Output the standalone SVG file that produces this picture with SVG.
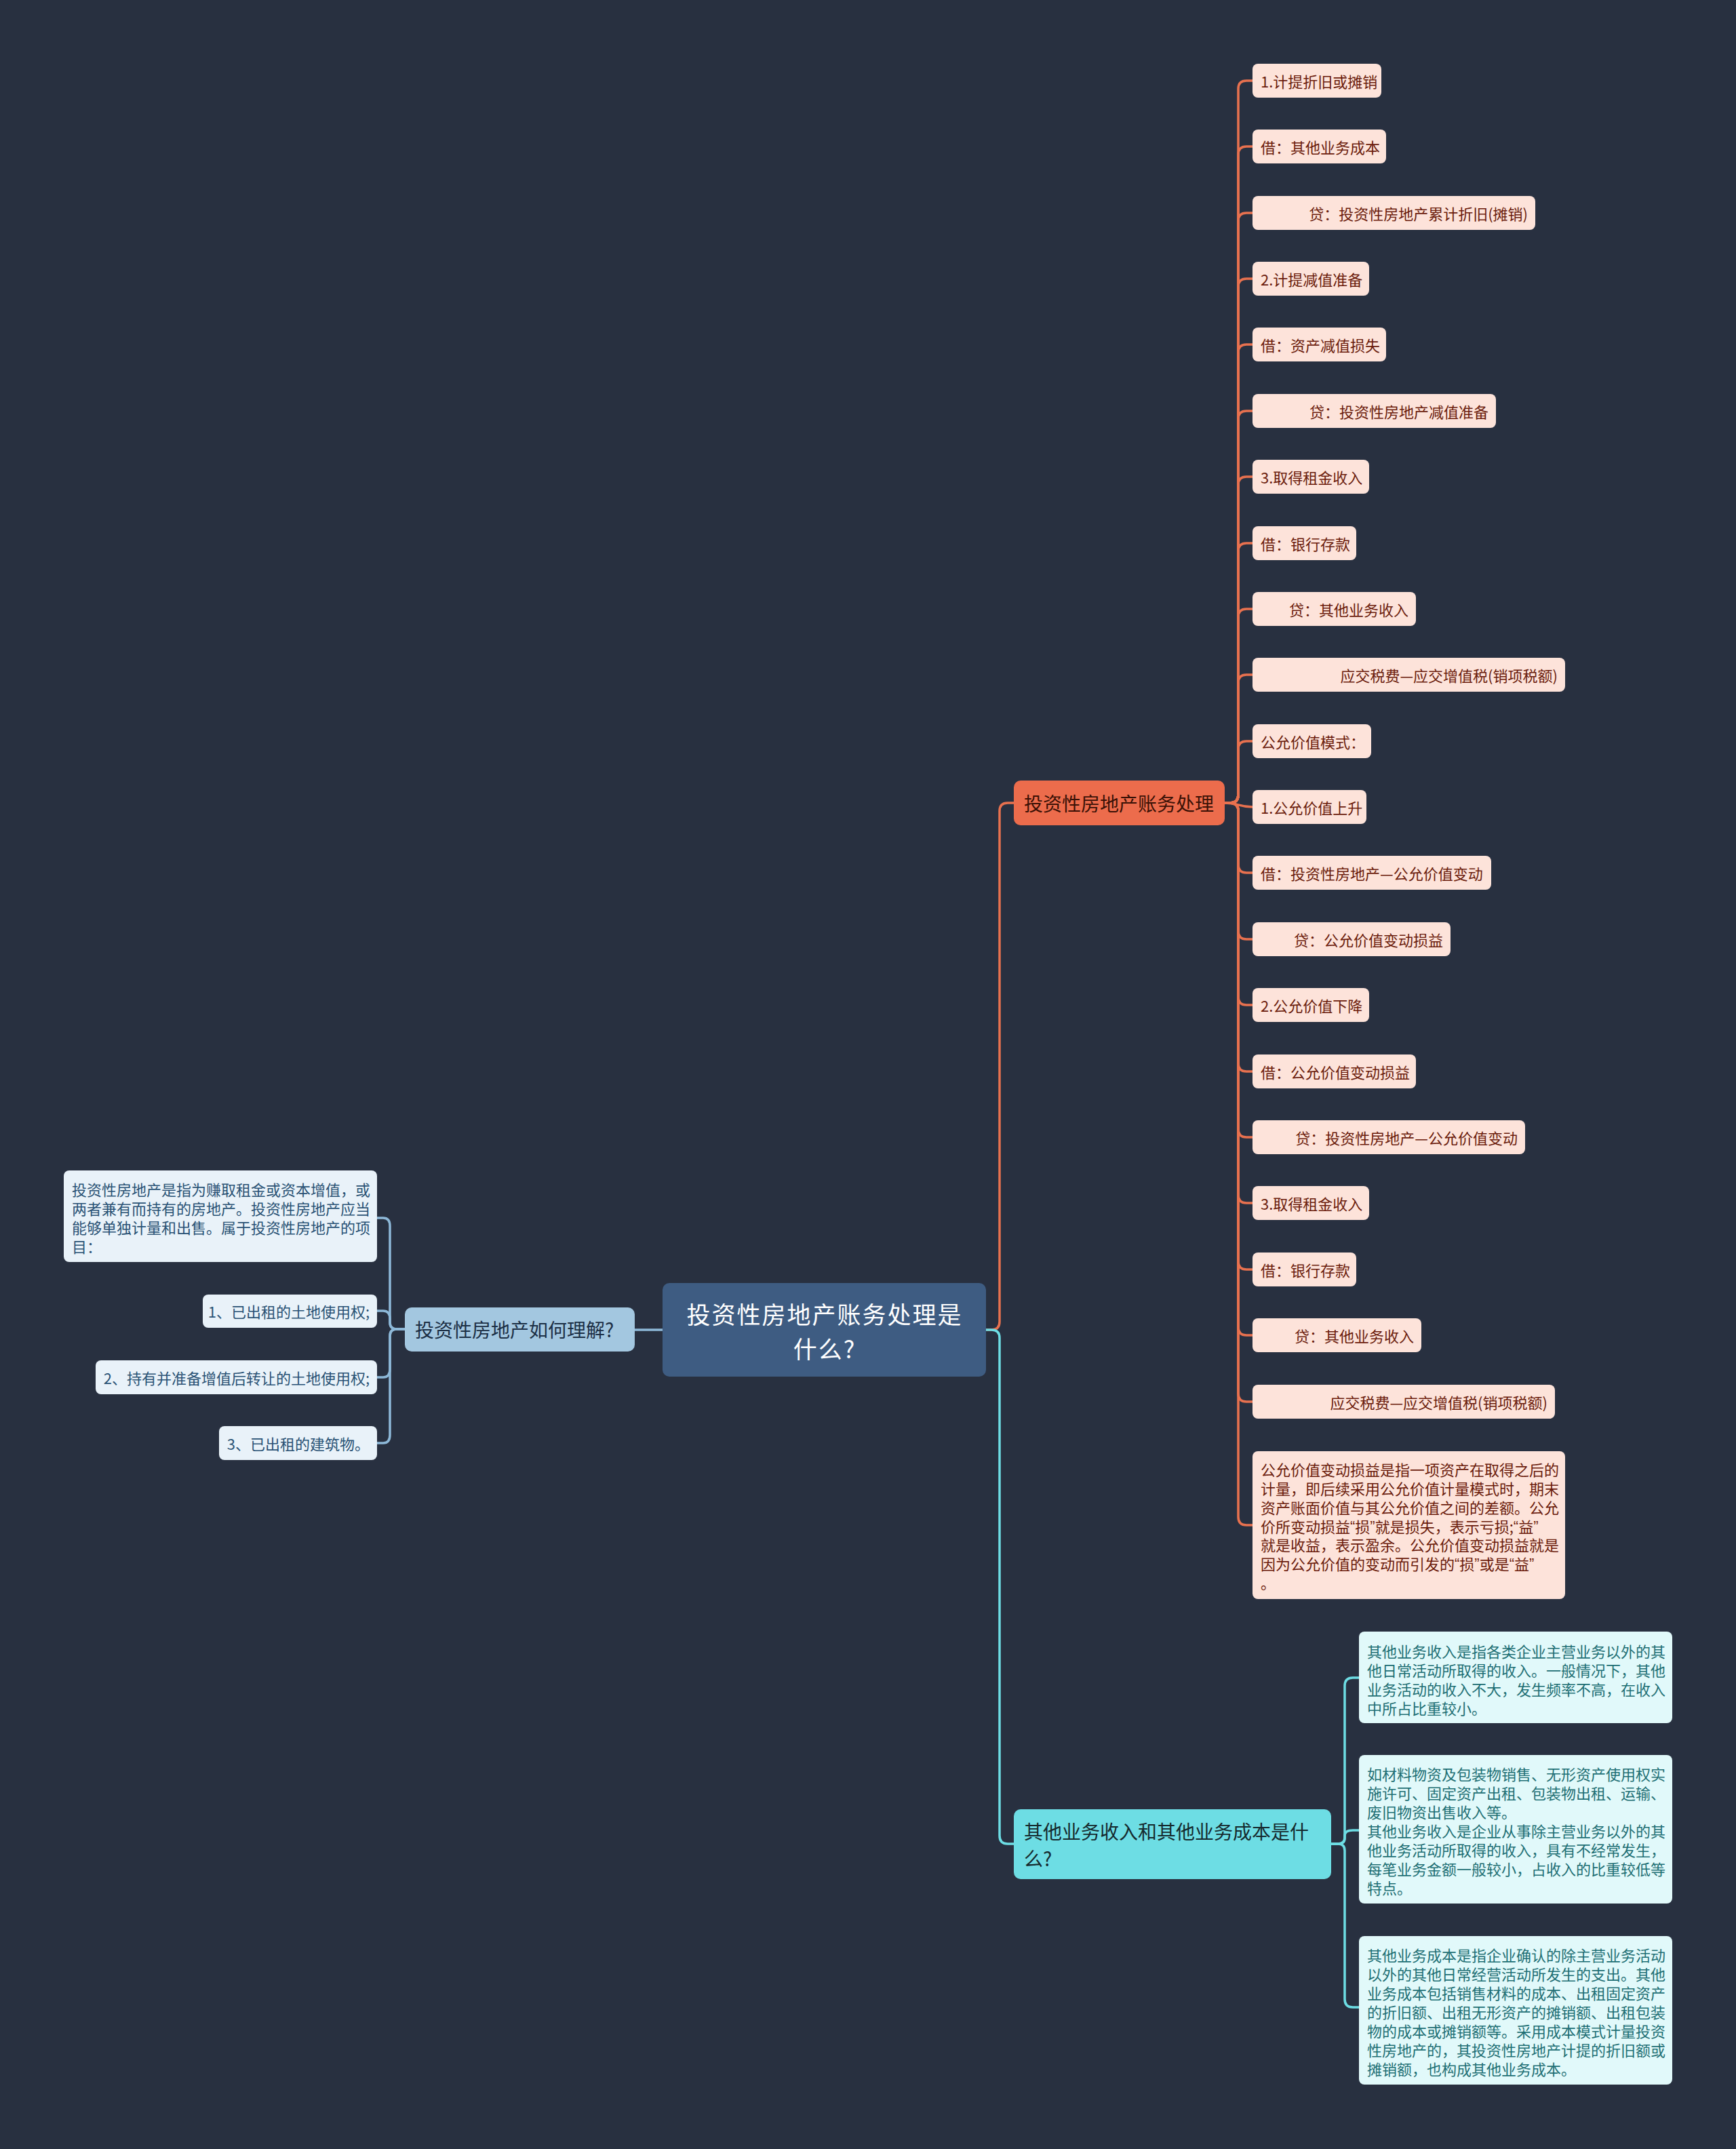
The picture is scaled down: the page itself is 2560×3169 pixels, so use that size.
<svg xmlns="http://www.w3.org/2000/svg" width="2560" height="3169" viewBox="0 0 2560 3169">
<style>
text{font-family:"Noto Sans CJK SC","Noto Sans",sans-serif;dominant-baseline:central}
.leaf rect{fill:#fde3da}
.leaf text{font-size:22px;fill:#6b1c0c}
.lleaf rect{fill:#e9f2f9}
.lleaf text{font-size:22px;fill:#2a5275}
.cleaf rect{fill:#e1f9fa}
.cleaf text{font-size:22px;fill:#1e6f74}
.e{text-anchor:end}
.q{font-family:"Liberation Sans",sans-serif}
.con path{fill:none;stroke-width:3.5}
.o{stroke:#e8714f}
.b{stroke:#8db8d8}
.c{stroke:#6ddde4}
</style>
<rect x="0" y="0" width="2560" height="3169" fill="#283040"/>

<g id="connectors" class="con">
  <path class="b" d="M977 1961 H936"/>
  <path class="o" d="M1453 1961 H1462 Q1474 1961 1474 1949 V1196 Q1474 1184 1486 1184 H1495"/>
  <path class="c" d="M1453 1961 H1462 Q1474 1961 1474 1973 V2707 Q1474 2719 1486 2719 H1495"/>
  <path class="b" d="M597 1960 H585 Q575 1960 575 1950 V1808 Q575 1796 565 1796 H556"/>
  <path class="b" d="M597 1960 H585 Q575 1960 575 1950 V1945 Q575 1933 565 1933 H556"/>
  <path class="b" d="M597 1960 H585 Q575 1960 575 1970 V2019 Q575 2031 565 2031 H556"/>
  <path class="b" d="M597 1960 H585 Q575 1960 575 1970 V2116 Q575 2128 565 2128 H556"/>
  <path class="c" d="M1963 2719 H1973 Q1983 2719 1983 2709 V2486 Q1983 2474 1995 2474 H2004"/>
  <path class="c" d="M1963 2719 H1973 Q1983 2719 1983 2711 V2707 Q1983 2699 1995 2699 H2004"/>
  <path class="c" d="M1963 2719 H1973 Q1983 2719 1983 2729 V2948 Q1983 2960 1995 2960 H2004"/>
  <path class="o" d="M1806 1184 H1814 Q1826 1184 1826 1172 V131 Q1826 119 1838 119 H1847"/>
  <path class="o" d="M1806 1184 H1814 Q1826 1184 1826 1172 V228 Q1826 216 1838 216 H1847"/>
  <path class="o" d="M1806 1184 H1814 Q1826 1184 1826 1172 V326 Q1826 314 1838 314 H1847"/>
  <path class="o" d="M1806 1184 H1814 Q1826 1184 1826 1172 V423 Q1826 411 1838 411 H1847"/>
  <path class="o" d="M1806 1184 H1814 Q1826 1184 1826 1172 V520 Q1826 508 1838 508 H1847"/>
  <path class="o" d="M1806 1184 H1814 Q1826 1184 1826 1172 V618 Q1826 606 1838 606 H1847"/>
  <path class="o" d="M1806 1184 H1814 Q1826 1184 1826 1172 V715 Q1826 703 1838 703 H1847"/>
  <path class="o" d="M1806 1184 H1814 Q1826 1184 1826 1172 V813 Q1826 801 1838 801 H1847"/>
  <path class="o" d="M1806 1184 H1814 Q1826 1184 1826 1172 V910 Q1826 898 1838 898 H1847"/>
  <path class="o" d="M1806 1184 H1814 Q1826 1184 1826 1172 V1007 Q1826 995 1838 995 H1847"/>
  <path class="o" d="M1806 1184 H1814 Q1826 1184 1826 1172 V1105 Q1826 1093 1838 1093 H1847"/>
  <path class="o" d="M1806 1184 C1826 1184 1826 1190 1847 1190"/>
  <path class="o" d="M1806 1184 H1814 Q1826 1184 1826 1196 V1275 Q1826 1287 1838 1287 H1847"/>
  <path class="o" d="M1806 1184 H1814 Q1826 1184 1826 1196 V1373 Q1826 1385 1838 1385 H1847"/>
  <path class="o" d="M1806 1184 H1814 Q1826 1184 1826 1196 V1470 Q1826 1482 1838 1482 H1847"/>
  <path class="o" d="M1806 1184 H1814 Q1826 1184 1826 1196 V1568 Q1826 1580 1838 1580 H1847"/>
  <path class="o" d="M1806 1184 H1814 Q1826 1184 1826 1196 V1665 Q1826 1677 1838 1677 H1847"/>
  <path class="o" d="M1806 1184 H1814 Q1826 1184 1826 1196 V1762 Q1826 1774 1838 1774 H1847"/>
  <path class="o" d="M1806 1184 H1814 Q1826 1184 1826 1196 V1860 Q1826 1872 1838 1872 H1847"/>
  <path class="o" d="M1806 1184 H1814 Q1826 1184 1826 1196 V1957 Q1826 1969 1838 1969 H1847"/>
  <path class="o" d="M1806 1184 H1814 Q1826 1184 1826 1196 V2055 Q1826 2067 1838 2067 H1847"/>
  <path class="o" d="M1806 1184 H1814 Q1826 1184 1826 1196 V2237 Q1826 2249 1838 2249 H1847"/>
</g>

<g id="root">
  <rect x="977" y="1892" width="477" height="138" rx="10" fill="#3e5c82"/>
  <text font-size="35" letter-spacing="2" fill="#ffffff" text-anchor="middle"><tspan x="1216" y="1936">投资性房地产账务处理是</tspan><tspan x="1216" y="1987">什么?</tspan></text>
</g>

<g id="branch-left">
  <rect x="597" y="1928" width="339" height="65" rx="10" fill="#a3c7e0"/>
  <text x="612" y="1960" font-size="28" fill="#1c2f45">投资性房地产如何理解?</text>
</g>

<g id="branch-orange">
  <rect x="1495" y="1151" width="311" height="66" rx="10" fill="#ec6c4c"/>
  <text x="1510" y="1184" font-size="28" fill="#3a1106">投资性房地产账务处理</text>
</g>

<g id="branch-cyan">
  <rect x="1495" y="2668" width="468" height="103" rx="10" fill="#6ddde4"/>
  <text font-size="28" fill="#15292d"><tspan x="1510" y="2700">其他业务收入和其他业务成本是什</tspan><tspan x="1510" y="2740">么?</tspan></text>
</g>

<g id="l-def" class="lleaf">
  <rect x="94" y="1726" width="462" height="135" rx="8"/>
  <text><tspan x="106" y="1753">投资性房地产是指为赚取租金或资本增值，或</tspan><tspan x="106" y="1781">两者兼有而持有的房地产。投资性房地产应当</tspan><tspan x="106" y="1809">能够单独计量和出售。属于投资性房地产的项</tspan><tspan x="106" y="1837">目：</tspan></text>
</g>
<g id="l-1" class="lleaf">
  <rect x="299" y="1909" width="257" height="49" rx="8"/>
  <text class="e" x="545" y="1933">1、已出租的土地使用权;</text>
</g>
<g id="l-2" class="lleaf">
  <rect x="141" y="2006" width="415" height="50" rx="8"/>
  <text class="e" x="545" y="2031">2、持有并准备增值后转让的土地使用权;</text>
</g>
<g id="l-3" class="lleaf">
  <rect x="323" y="2103" width="233" height="50" rx="8"/>
  <text class="e" x="545" y="2128">3、已出租的建筑物。</text>
</g>

<g id="o-0" class="leaf"><rect x="1847" y="94" width="190" height="50" rx="8"/><text x="1859" y="119">1.计提折旧或摊销</text></g>
<g id="o-1" class="leaf"><rect x="1847" y="191" width="197" height="50" rx="8"/><text x="1859" y="216">借：其他业务成本</text></g>
<g id="o-2" class="leaf"><rect x="1847" y="289" width="417" height="50" rx="8"/><text class="e" x="2253" y="314">贷：投资性房地产累计折旧(摊销)</text></g>
<g id="o-3" class="leaf"><rect x="1847" y="386" width="172" height="50" rx="8"/><text x="1859" y="411">2.计提减值准备</text></g>
<g id="o-4" class="leaf"><rect x="1847" y="483" width="197" height="50" rx="8"/><text x="1859" y="508">借：资产减值损失</text></g>
<g id="o-5" class="leaf"><rect x="1847" y="581" width="359" height="50" rx="8"/><text class="e" x="2195" y="606">贷：投资性房地产减值准备</text></g>
<g id="o-6" class="leaf"><rect x="1847" y="678" width="172" height="50" rx="8"/><text x="1859" y="703">3.取得租金收入</text></g>
<g id="o-7" class="leaf"><rect x="1847" y="776" width="153" height="50" rx="8"/><text x="1859" y="801">借：银行存款</text></g>
<g id="o-8" class="leaf"><rect x="1847" y="873" width="241" height="50" rx="8"/><text class="e" x="2077" y="898">贷：其他业务收入</text></g>
<g id="o-9" class="leaf"><rect x="1847" y="970" width="461" height="50" rx="8"/><text class="e" x="2297" y="995">应交税费—应交增值税(销项税额)</text></g>
<g id="o-10" class="leaf"><rect x="1847" y="1068" width="175" height="50" rx="8"/><text x="1859" y="1093">公允价值模式：</text></g>
<g id="o-11" class="leaf"><rect x="1847" y="1165" width="168" height="50" rx="8"/><text x="1859" y="1190">1.公允价值上升</text></g>
<g id="o-12" class="leaf"><rect x="1847" y="1262" width="352" height="50" rx="8"/><text x="1859" y="1287">借：投资性房地产—公允价值变动</text></g>
<g id="o-13" class="leaf"><rect x="1847" y="1360" width="292" height="50" rx="8"/><text class="e" x="2128" y="1385">贷：公允价值变动损益</text></g>
<g id="o-14" class="leaf"><rect x="1847" y="1457" width="172" height="50" rx="8"/><text x="1859" y="1482">2.公允价值下降</text></g>
<g id="o-15" class="leaf"><rect x="1847" y="1555" width="241" height="50" rx="8"/><text x="1859" y="1580">借：公允价值变动损益</text></g>
<g id="o-16" class="leaf"><rect x="1847" y="1652" width="402" height="50" rx="8"/><text class="e" x="2238" y="1677">贷：投资性房地产—公允价值变动</text></g>
<g id="o-17" class="leaf"><rect x="1847" y="1749" width="172" height="50" rx="8"/><text x="1859" y="1774">3.取得租金收入</text></g>
<g id="o-18" class="leaf"><rect x="1847" y="1847" width="153" height="50" rx="8"/><text x="1859" y="1872">借：银行存款</text></g>
<g id="o-19" class="leaf"><rect x="1847" y="1944" width="249" height="50" rx="8"/><text class="e" x="2085" y="1969">贷：其他业务收入</text></g>
<g id="o-20" class="leaf"><rect x="1847" y="2042" width="446" height="50" rx="8"/><text class="e" x="2282" y="2067">应交税费—应交增值税(销项税额)</text></g>
<g id="o-21" class="leaf">
  <rect x="1847" y="2140" width="461" height="218" rx="8"/>
  <text><tspan x="1859" y="2166">公允价值变动损益是指一项资产在取得之后的</tspan><tspan x="1859" y="2194">计量，即后续采用公允价值计量模式时，期末</tspan><tspan x="1859" y="2222">资产账面价值与其公允价值之间的差额。公允</tspan><tspan x="1859" y="2250">价所变动损益<tspan class="q">“</tspan>损<tspan class="q">”</tspan>就是损失，表示亏损;<tspan class="q">“</tspan>益<tspan class="q">”</tspan></tspan><tspan x="1859" y="2277">就是收益，表示盈余。公允价值变动损益就是</tspan><tspan x="1859" y="2305">因为公允价值的变动而引发的<tspan class="q">“</tspan>损<tspan class="q">”</tspan>或是<tspan class="q">“</tspan>益<tspan class="q">”</tspan></tspan><tspan x="1859" y="2333">。</tspan></text>
</g>

<g id="c-1" class="cleaf">
  <rect x="2004" y="2406" width="462" height="135" rx="8"/>
  <text><tspan x="2016" y="2434">其他业务收入是指各类企业主营业务以外的其</tspan><tspan x="2016" y="2462">他日常活动所取得的收入。一般情况下，其他</tspan><tspan x="2016" y="2490">业务活动的收入不大，发生频率不高，在收入</tspan><tspan x="2016" y="2518">中所占比重较小。</tspan></text>
</g>
<g id="c-2" class="cleaf">
  <rect x="2004" y="2588" width="462" height="219" rx="8"/>
  <text><tspan x="2016" y="2615">如材料物资及包装物销售、无形资产使用权实</tspan><tspan x="2016" y="2643">施许可、固定资产出租、包装物出租、运输、</tspan><tspan x="2016" y="2671">废旧物资出售收入等。</tspan><tspan x="2016" y="2699">其他业务收入是企业从事除主营业务以外的其</tspan><tspan x="2016" y="2727">他业务活动所取得的收入，具有不经常发生，</tspan><tspan x="2016" y="2755">每笔业务金额一般较小，占收入的比重较低等</tspan><tspan x="2016" y="2783">特点。</tspan></text>
</g>
<g id="c-3" class="cleaf">
  <rect x="2004" y="2855" width="462" height="219" rx="8"/>
  <text><tspan x="2016" y="2882">其他业务成本是指企业确认的除主营业务活动</tspan><tspan x="2016" y="2910">以外的其他日常经营活动所发生的支出。其他</tspan><tspan x="2016" y="2938">业务成本包括销售材料的成本、出租固定资产</tspan><tspan x="2016" y="2966">的折旧额、出租无形资产的摊销额、出租包装</tspan><tspan x="2016" y="2994">物的成本或摊销额等。采用成本模式计量投资</tspan><tspan x="2016" y="3022">性房地产的，其投资性房地产计提的折旧额或</tspan><tspan x="2016" y="3050">摊销额，也构成其他业务成本。</tspan></text>
</g>
</svg>
